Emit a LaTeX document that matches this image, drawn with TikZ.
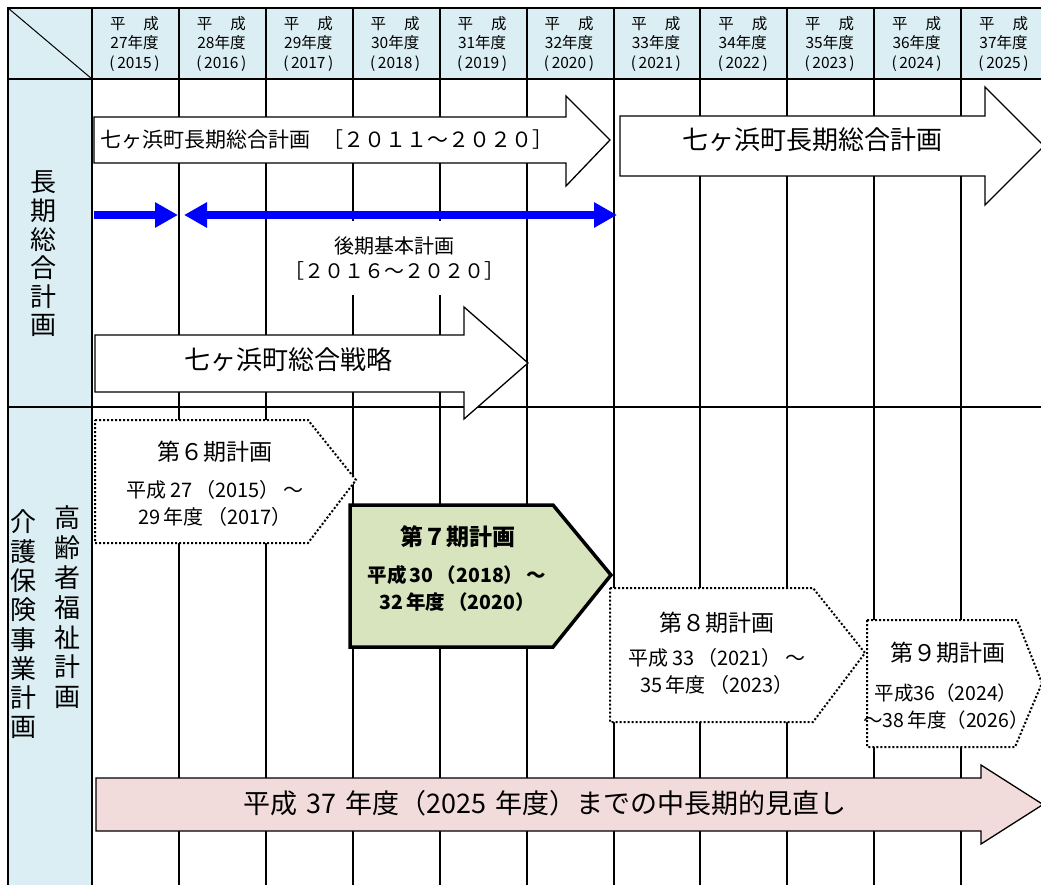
\documentclass[tikz,border=0pt]{standalone}
\usepackage{fontspec}
\newfontfamily\jp{Noto Sans CJK JP}
\usetikzlibrary{arrows.meta}
\definecolor{hdrblue}{HTML}{DAEEF3}
\definecolor{plangreen}{HTML}{D7E4BD}
\definecolor{planpink}{HTML}{F2DCDB}
\definecolor{arrowblue}{HTML}{0000FF}
\newcommand\jfs[2]{\fontsize{#1}{#2}\selectfont}
\begin{document}
\begin{tikzpicture}[x=1pt,y=-1pt,
  gridline/.style={line width=1.8pt, black},
  blockarrow/.style={draw=black, line width=1.3pt, fill=white, line join=miter},
  dotbox/.style={draw=black, fill=white, line width=2pt, dash pattern=on 2pt off 2pt},
  txt/.style={inner sep=0pt, align=center, text=black},
  hdrtxt/.style={txt, font=\jp\jfs{15.5}{19.5}},
  vtxt/.style={txt, font=\jp\jfs{26}{28.6}},
  datetxt/.style={txt, font=\jp\jfs{20}{27}},
  bluearrow/.style={draw=arrowblue, line width=8pt},
  bhead/.tip={Triangle[length=23pt,width=24pt]},
]
\useasboundingbox (0,0) rectangle (1041,885);
\clip (0,0) rectangle (1041,885);
% backgrounds
\fill[hdrblue] (8,8) rectangle (1050,79);
\fill[hdrblue] (8,79) rectangle (92,890);
% grid
\draw[gridline] (8,8) -- (1050,8);
\draw[gridline] (8,79) -- (1050,79);
\draw[gridline] (8,407) -- (1050,407);
\draw[gridline] (8,7) -- (8,890);
\foreach \gx in {92,179,266,353,440,527,614,700,787,874,961}
  \draw[gridline] (\gx,8) -- (\gx,890);
\draw[line width=1pt] (8,8) -- (92,79);
% header
\foreach \k in {0,...,10} {
  \pgfmathsetmacro\cx{134.5+86.9*\k}
  \pgfmathtruncatemacro\hy{27+\k}
  \pgfmathtruncatemacro\yr{2015+\k}
  \node[hdrtxt] (hdr\k) at (\cx,44) {平\hspace{18pt}成\\\hy 年度\\(\,\yr\,)};
}
% left column labels
\node[vtxt] (sec1) at (43,254) {長\\期\\総\\合\\計\\画};
\node[vtxt, font=\jp\jfs{26}{29.8}] (sec2a) at (67,607.5) {高\\齢\\者\\福\\祉\\計\\画};
\node[vtxt, font=\jp\jfs{26}{29.3}] (sec2b) at (23,624.5) {介\\護\\保\\険\\事\\業\\計\\画};
% long-term plan arrow 1
\draw[blockarrow] (94,117) -- (566,117) -- (566,96) -- (610,140) -- (566,186) -- (566,163) -- (94,163) -- cycle;
\node[txt, anchor=west, font=\jp\jfs{21}{21}] (plan1) at (100,140) {七ヶ浜町長期総合計画\hspace{12pt}［２０１１～２０２０］};
% long-term plan arrow 2
\draw[blockarrow] (620,116) -- (985,116) -- (985,87) -- (1044,146) -- (985,205) -- (985,176) -- (620,176) -- cycle;
\node[txt, font=\jp\jfs{26}{26}] (plan2) at (812,140) {七ヶ浜町長期総合計画};
% blue arrows
\coordinate (b0) at (94,215);
\coordinate (b1) at (178,215);
\coordinate (b2) at (184,215);
\coordinate (b3) at (617,215);
\draw[bluearrow, -bhead] (b0) -- (b1);
\draw[bluearrow, bhead-bhead] (b2) -- (b3);
\node[txt, fill=white, minimum width=220pt, minimum height=73pt, font=\jp\jfs{20}{25}] (kouki) at (394,258) {後期基本計画\\［２０１６～２０２０］};
% strategy arrow
\draw[blockarrow] (95,335) -- (464,335) -- (464,307) -- (528,363) -- (464,419) -- (464,392) -- (95,392) -- cycle;
\node[txt, font=\jp\jfs{26}{26}] (senryaku) at (288,360) {七ヶ浜町総合戦略};
% 6th plan
\draw[dotbox] (95,420) -- (308,420) -- (356,480) -- (308,543) -- (95,543) -- cycle;
\node[txt, font=\jp\jfs{23}{23}] (p6t) at (215,452) {第６期計画};
\node[datetxt] (p6d) at (215,503.5) {平成\,27\,（2015）\,～\\29\,年度\,（2017）};
% 7th plan
\draw[draw=black, fill=plangreen, line width=3.5pt, line join=miter] (350,505) -- (553,505) -- (611,575) -- (553,647) -- (350,647) -- cycle;
\node[txt, font=\jp\bfseries\jfs{23}{23}] (p7t) at (458,537) {第７期計画};
\node[datetxt, font=\jp\bfseries\jfs{19.5}{27}] (p7d) at (457,588.5) {平成\,30\,（2018）\,～\\32\,年度\,（2020）};
% 8th plan
\draw[dotbox] (610,588) -- (813,588) -- (865,653) -- (813,722) -- (610,722) -- cycle;
\node[txt, font=\jp\jfs{23}{23}] (p8t) at (717,623) {第８期計画};
\node[datetxt] (p8d) at (717,671.5) {平成\,33\,（2021）\,～\\35\,年度\,（2023）};
% 9th plan
\draw[dotbox] (867,620) -- (1017,620) -- (1042,683) -- (1015,747) -- (867,747) -- cycle;
\node[txt, font=\jp\jfs{23}{23}] (p9t) at (948,653) {第９期計画};
\node[txt, font=\jp\jfs{19.5}{27}] (p9d) at (946,706.5) {平成36（2024）\\～38\,年度（2026）};
% mid-long term arrow
\draw[blockarrow, fill=planpink] (96,778) -- (981,778) -- (981,765) -- (1043,804.5) -- (981,844) -- (981,831) -- (96,831) -- cycle;
\node[txt, font=\jp\jfs{27}{27}] (midlong) at (545,803) {平成\,\,37\,\,年度（2025\,\,年度）までの中長期的見直し};
\end{tikzpicture}
\end{document}
